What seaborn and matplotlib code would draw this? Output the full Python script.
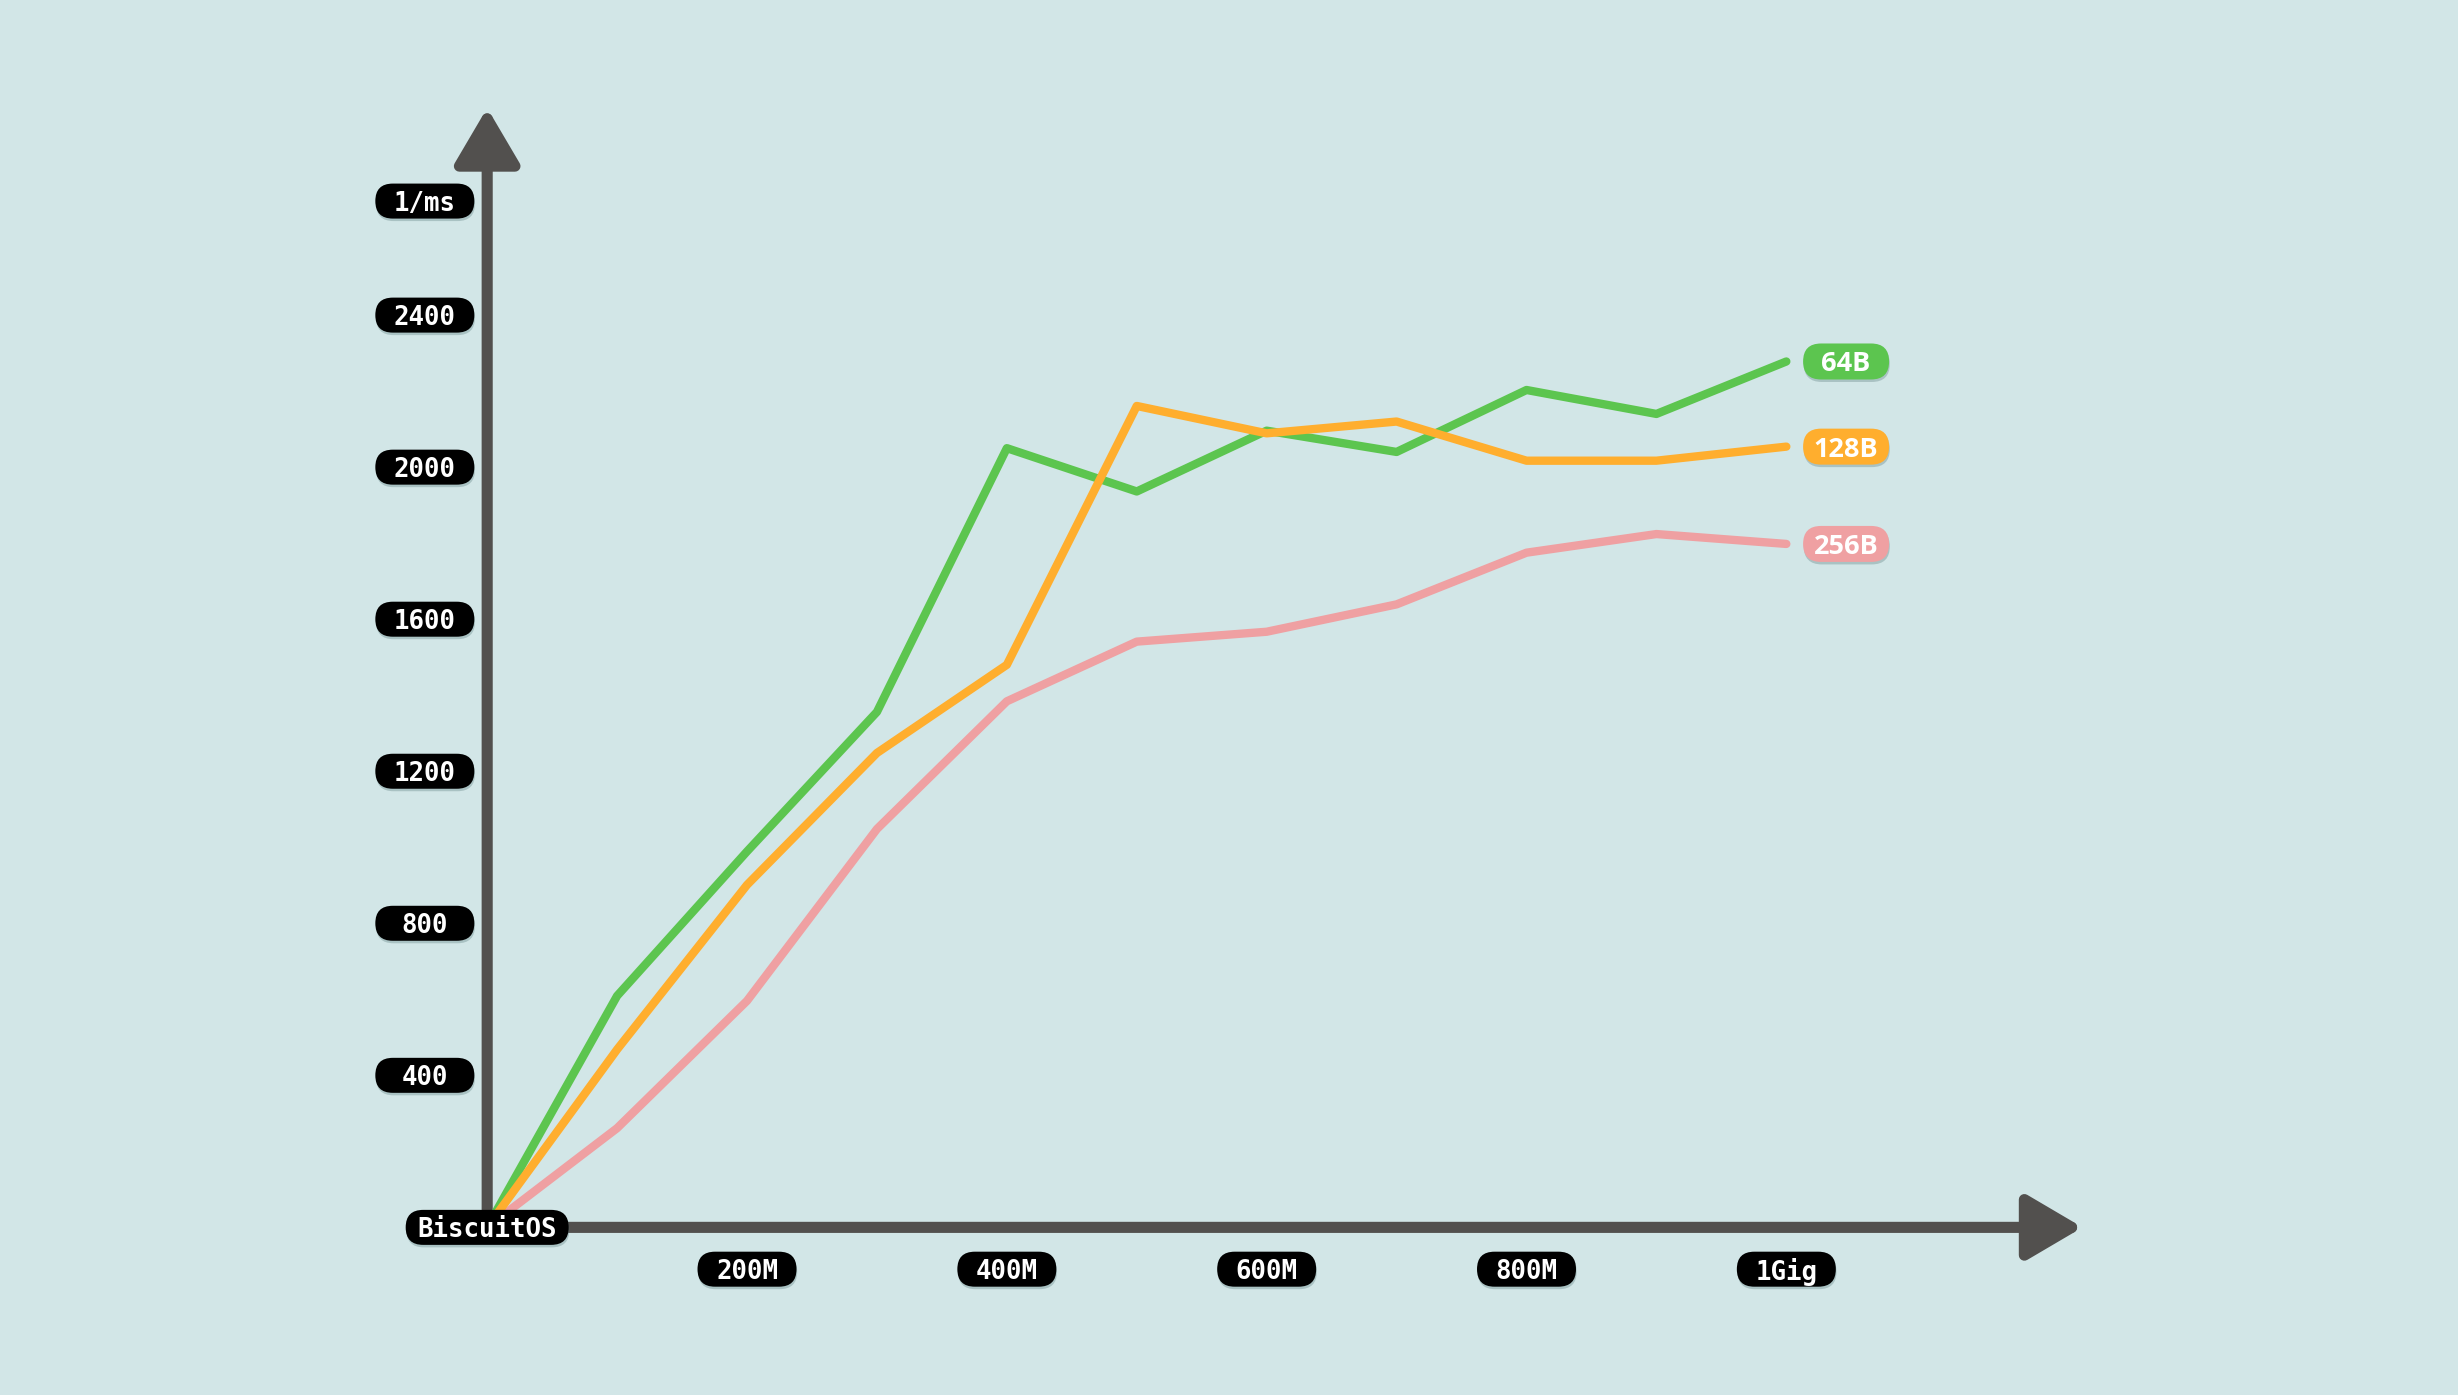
import pandas as pd
import seaborn as sns
import matplotlib.pyplot as plt
from matplotlib import transforms, patheffects
from matplotlib.patches import FancyArrowPatch, FancyBboxPatch

# data
sizes = [0, 100, 200, 300, 400, 500, 600, 700, 800, 900, 1000]   # M
rate_64b = [0, 609, 989, 1356, 2050, 1936, 2096, 2040, 2203, 2140, 2278]
rate_128b = [0, 468, 901, 1248, 1480, 2161, 2089, 2120, 2017, 2017, 2054]
rate_256b = [0, 261, 596, 1048, 1384, 1541, 1567, 1639, 1775, 1824, 1798]

x_ticks = [200, 400, 600, 800, 1000]
x_tick_labels = ['200M', '400M', '600M', '800M', '1Gig']
y_ticks = [400, 800, 1200, 1600, 2000, 2400]
y_tick_labels = ['400', '800', '1200', '1600', '2000', '2400']
y_unit = '1/ms'
origin_label = 'BiscuitOS'

BG = '#d2e6e7'
AXIS = '#52504e'
palette = {'64B': '#5cc54f', '128B': '#ffae2e', '256B': '#efa0a2'}

df = pd.DataFrame({'size': sizes, '64B': rate_64b, '128B': rate_128b, '256B': rate_256b})
long = df.melt(id_vars='size', var_name='block', value_name='rate')

sns.set_style('white')
fig = plt.figure(figsize=(24.58, 13.95), dpi=100, facecolor=BG)
ax = fig.add_axes([0, 0, 1, 1])
ax.set_facecolor(BG)
ax.set_xlim(-375, 1517)
ax.set_ylim(-441, 3229)
ax.axis('off')

sns.lineplot(data=long, x='size', y='rate', hue='block', hue_order=['256B', '64B', '128B'],
             palette=palette, linewidth=6, legend=False, ax=ax, zorder=4)
for line in ax.lines:
    line.set_solid_joinstyle('round')
    line.set_solid_capstyle('round')

# axes with arrow heads
arrow = '-|>,head_length=34,head_width=20'
ax.add_patch(FancyArrowPatch((0, 0), (0, 2945), arrowstyle=arrow, mutation_scale=1, lw=8,
                             color=AXIS, joinstyle='round', shrinkA=0, shrinkB=0, zorder=3))
ax.add_patch(FancyArrowPatch((0, 0), (1228, 0), arrowstyle=arrow, mutation_scale=1, lw=8,
                             color=AXIS, joinstyle='round', shrinkA=0, shrinkB=0, zorder=3))


def pill(x, y, text, w, h, face, font, size):
    # rounded label box, size given in inches, centred on a data point
    trans = fig.dpi_scale_trans + transforms.ScaledTranslation(x, y, ax.transData)
    box = FancyBboxPatch((-w / 2, -h / 2), w, h, boxstyle=f'round,pad=0,rounding_size={h / 2}',
                         transform=trans, fc=face, ec='none', zorder=5, clip_on=False)
    box.set_path_effects([patheffects.SimplePatchShadow(offset=(0.5, -1.8), shadow_rgbFace='#5f7f80', alpha=0.35),
                          patheffects.Normal()])
    ax.add_patch(box)
    ax.text(x, y, text, ha='center', va='center_baseline', color='white', fontsize=size,
            family=font, fontweight='bold', zorder=6)


mono = 'DejaVu Sans Mono'
for v, lab in zip(y_ticks, y_tick_labels):
    pill(-48, v, lab, 0.99, 0.35, 'black', mono, 18.5)
pill(-48, 2700, y_unit, 0.99, 0.35, 'black', mono, 18.5)
for v, lab in zip(x_ticks, x_tick_labels):
    pill(v, -110, lab, 0.99, 0.35, 'black', mono, 18.5)
pill(0, 0, origin_label, 1.63, 0.35, 'black', mono, 18.5)

for name, vals in [('64B', rate_64b), ('128B', rate_128b), ('256B', rate_256b)]:
    pill(1046, vals[-1], name, 0.86, 0.36, palette[name], 'Open Sans', 19.5)

fig.savefig('out.png', dpi=100, facecolor=BG)
